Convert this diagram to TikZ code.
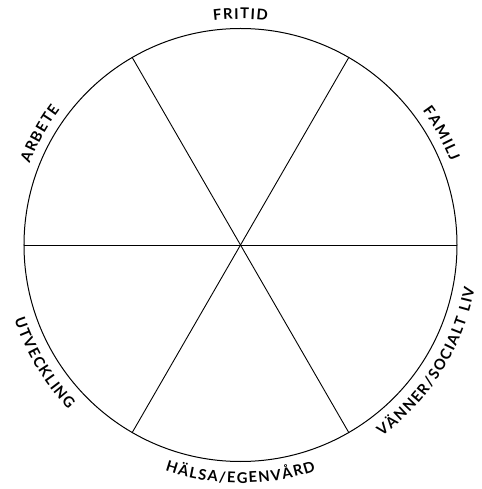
\documentclass[tikz,border=0pt]{standalone}
\usepackage{fontspec}
\setmainfont{Lato}
\newfontfamily\lblfont{Lato}
\usetikzlibrary{decorations.text}
\begin{document}
\begin{tikzpicture}[x=1pt,y=1pt,
  lbl/.style={decorate, decoration={text effects along path, text={#1}, text align=center,
     text effects/.cd, text along path,
     every character/.style={font=\lblfont\bfseries\fontsize{14.8}{15}\selectfont, inner xsep=0.7pt},
     character widths={font=\lblfont\bfseries\fontsize{14.8}{15}\selectfont, inner xsep=0.7pt}}},
  ring/.style={line width=1pt, black},
  spoke/.style={line width=0.9pt, black}]
\useasboundingbox (-240.5,-244) rectangle (240.5,245);
\coordinate (c) at (0,0);
\draw[ring] (c) circle (216.5);
\foreach \a in {0,60,120}{
  \coordinate (p\a) at (\a:216.5);
  \coordinate (q\a) at (\a+180:216.5);
  \draw[spoke] (p\a) -- (q\a);
}
% upper labels: clockwise, letters pointing outward
\path[lbl=FRITID] (120:226) arc[start angle=120, end angle=60, radius=226];
\path[lbl=FAMILJ] (59:226) arc[start angle=59, end angle=-1, radius=226];
\path[lbl=ARBETE] (181:226) arc[start angle=181, end angle=121, radius=226];
% lower labels: counterclockwise, letters pointing inward
\path[lbl=HÄLSA/EGENVÅRD] (-120:238) arc[start angle=-120, end angle=-60, radius=238];
\path[lbl=VÄNNER/SOCIALT LIV] (-62:238) arc[start angle=-62, end angle=-2, radius=238];
\path[lbl=UTVECKLING] (-179:238) arc[start angle=-179, end angle=-119, radius=238];
\end{tikzpicture}
\end{document}
